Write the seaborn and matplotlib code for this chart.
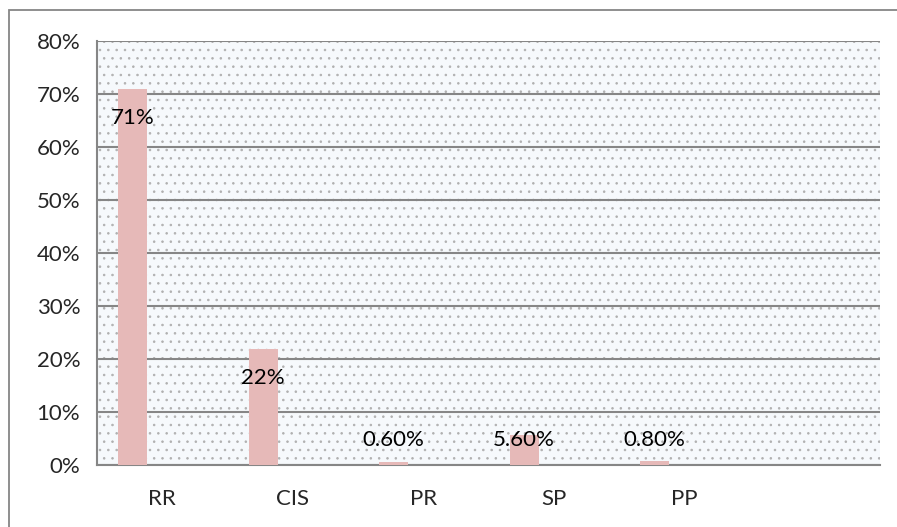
import matplotlib
matplotlib.use("Agg")
import matplotlib.pyplot as plt
import matplotlib.patches as mpatches
from matplotlib.ticker import PercentFormatter
import seaborn as sns
import pandas as pd

# data
categories = ["RR", "CIS", "PR", "SP", "PP", " "]
values = [0.71, 0.22, 0.006, 0.056, 0.008, None]
labels = ["71%", "22%", "0.60%", "5.60%", "0.80%", ""]

df = pd.DataFrame({"cat": categories, "val": values})

sns.set_style("white")
plt.rcParams['font.family'] = ['Lato', 'DejaVu Sans']
plt.rcParams['hatch.color'] = '#b0b0b0'
plt.rcParams['hatch.linewidth'] = 0.6

fig = plt.figure(figsize=(8.97, 5.27), dpi=100)
ax = fig.add_axes([0.108, 0.1176, 0.873, 0.804])

# dotted plot-area background
ax.patch.set_facecolor('#f6f9fc')
ax.patch.set_edgecolor('#b0b0b0')
ax.patch.set_hatch('..')
ax.patch.set_linewidth(0)

sns.barplot(data=df, x="cat", y="val", color="#e6b9b8", saturation=1,
            width=0.22, ax=ax, zorder=3)
# shift bars to the left part of each slot
for p in ax.patches:
    p.set_x(p.get_x() - 0.226)
    p.set_edgecolor('none')

for i, (v, lab) in enumerate(zip(values, labels)):
    if v is None:
        continue
    ypos = max(v - 0.055, 0.047)
    ax.text(i - 0.226, ypos, lab, ha="center", va="center", fontsize=16,
            color="black", zorder=4)

ax.set_ylim(0, 0.8)
ax.set_xlim(-0.5, len(categories) - 0.5)
ax.set_yticks([i / 10 for i in range(9)])
ax.yaxis.set_major_formatter(PercentFormatter(1.0, decimals=0))
ax.yaxis.grid(True, color="#868686", linewidth=1.5, zorder=1)
ax.set_axisbelow(True)
ax.set_xlabel("")
ax.set_ylabel("")

# x ticks at slot boundaries, labels centered
ax.set_xticks([i - 0.5 for i in range(len(categories) + 1)], minor=False)
ax.set_xticklabels([])
ax.set_xticks(range(len(categories)), minor=True)
ax.set_xticklabels(categories, minor=True)
ax.tick_params(axis="x", which="minor", length=0, pad=17, labelsize=16)
ax.tick_params(axis="x", which="major", length=8, width=1.5, color="#868686", direction="out")
ax.tick_params(axis="y", length=8, width=1.5, color="#868686", direction="out",
               labelsize=16, pad=4)

for s in ["top", "right"]:
    ax.spines[s].set_visible(False)
for s in ["left", "bottom"]:
    ax.spines[s].set_color("#868686")
    ax.spines[s].set_linewidth(1.5)

# outer chart border
fig.patches.append(mpatches.Rectangle((9 / 897, -0.1), 1.2, (527 - 10) / 527 + 0.1,
                                      transform=fig.transFigure, fill=False,
                                      edgecolor="#868686", linewidth=1.3))

fig.savefig("out.png", dpi=100)
